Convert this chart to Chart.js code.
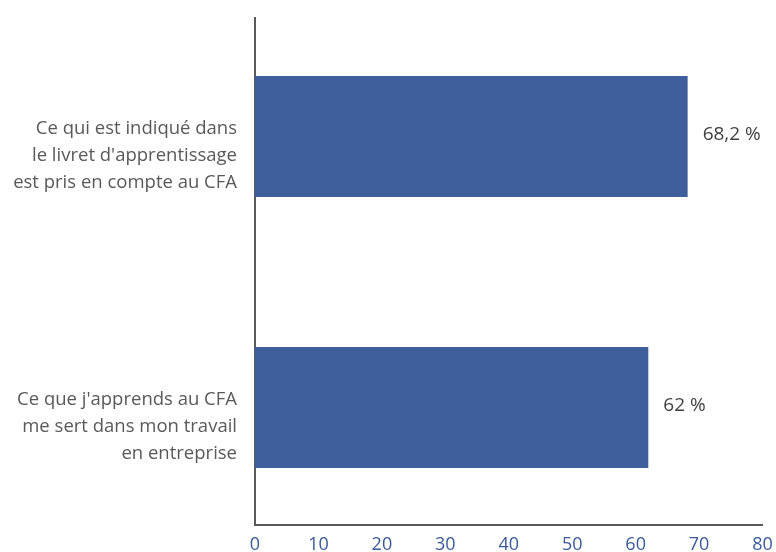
<!DOCTYPE html>
<html>
<head>
<meta charset="utf-8">
<script src="https://cdn.jsdelivr.net/npm/chart.js@4"></script>
<style>
  body { margin: 0; background: #fff; }
  #wrap { width: 776px; height: 552px; }
</style>
</head>
<body>
<div id="wrap"><canvas id="chart_cfa"></canvas></div>
<script>
var categories = [
    ["Ce qui est indiqué dans", "le livret d'apprentissage", "est pris en compte au CFA"],
    ["Ce que j'apprends au CFA", "me sert dans mon travail", "en entreprise"]
];
var values = [68.2, 62];
var valueLabels = ['68,2 %', '62 %'];
var xTicks = [0, 10, 20, 30, 40, 50, 60, 70, 80];

var FONT = '"Open Sans", sans-serif';

// draws the value next to each bar
var valueLabelPlugin = {
    id: 'valueLabel',
    afterDatasetsDraw: function (chart) {
        var ctx = chart.ctx;
        var meta = chart.getDatasetMeta(0);
        ctx.save();
        ctx.font = '19px ' + FONT;
        ctx.fillStyle = '#404040';
        ctx.textAlign = 'left';
        ctx.textBaseline = 'middle';
        meta.data.forEach(function (bar, i) {
            ctx.fillText(valueLabels[i], bar.x + 15, bar.y - 2);
        });
        ctx.restore();
    }
};

// y is a numeric index axis (0, 1) so the bars can sit where Excel put them
var points = values.map(function (v, i) { return { x: v, y: i }; });

var ctx = document.getElementById('chart_cfa').getContext('2d');
var chart = new Chart(ctx, {
    type: 'bar',
    data: {
        datasets: [{
            data: points,
            backgroundColor: '#3E5F9B',
            barPercentage: 0.893,
            categoryPercentage: 0.5
        }]
    },
    options: {
        indexAxis: 'y',
        responsive: true,
        maintainAspectRatio: false,
        animation: false,
        layout: { padding: { top: 18, right: 13.5, left: 0, bottom: 0 } },
        plugins: {
            legend: { display: false },
            tooltip: { enabled: false }
        },
        scales: {
            x: {
                type: 'linear',
                min: 0,
                max: 80,
                afterBuildTicks: function (axis) {
                    axis.ticks = xTicks.map(function (v) { return { value: v }; });
                },
                afterFit: function (axis) {
                    axis.height = 27;
                    axis.paddingLeft = 0;
                    axis.paddingRight = 0;
                },
                grid: { display: false, drawTicks: false },
                border: { display: true, color: '#595959', width: 2 },
                ticks: {
                    color: '#3A5A99',
                    padding: 9,
                    maxRotation: 0,
                    font: { family: FONT, size: 18 }
                }
            },
            y: {
                type: 'linear',
                reverse: true,
                offset: false,
                min: -0.437,
                max: 1.434,
                afterBuildTicks: function (axis) {
                    axis.ticks = categories.map(function (c, i) { return { value: i }; });
                },
                afterFit: function (axis) {
                    axis.width = 255;
                    axis.paddingTop = 0;
                    axis.paddingBottom = 0;
                },
                grid: { display: false, drawTicks: false },
                border: { display: true, color: '#595959', width: 2 },
                ticks: {
                    color: '#595959',
                    padding: 18,
                    labelOffset: 19,
                    callback: function (value) { return categories[value]; },
                    font: { family: FONT, size: 18.5, lineHeight: 1.46 }
                }
            }
        }
    },
    plugins: [valueLabelPlugin]
});
</script>
</body>
</html>
